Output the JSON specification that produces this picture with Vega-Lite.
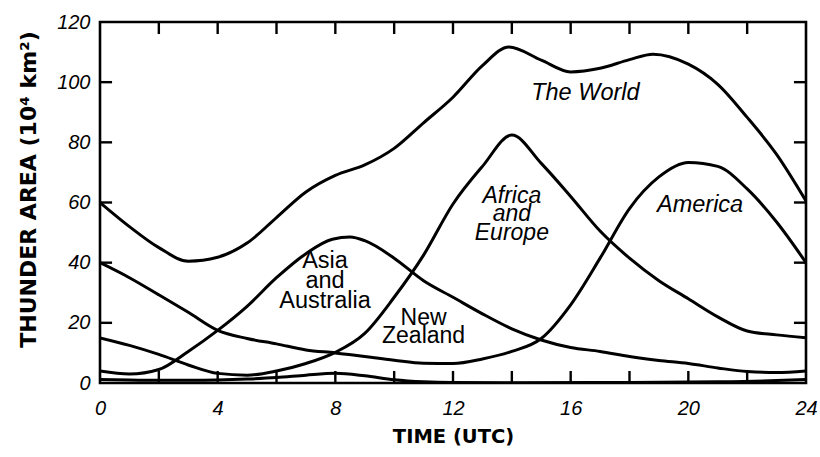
{
  "$schema": "https://vega.github.io/schema/vega-lite/v6.json",
  "width": 706,
  "height": 361,
  "autosize": "none",
  "padding": {"left": 100, "top": 22, "right": 14, "bottom": 74},
  "background": "white",
  "config": {
    "view": {"stroke": "black", "strokeWidth": 2.6},
    "font": "Liberation Sans",
    "scale": {"continuousPadding": 0},
    "axis": {
      "grid": false,
      "domain": false,
      "ticks": false,
      "labelFont": "Liberation Sans",
      "labelFontStyle": "italic",
      "labelFontSize": 20,
      "labelColor": "black",
      "titleFont": "DejaVu Sans",
      "titleFontWeight": "bold",
      "titleColor": "black"
    }
  },
  "datasets": {
    "hourTicks": [
      {"hour": 2}, {"hour": 4}, {"hour": 6}, {"hour": 8}, {"hour": 10}, {"hour": 12},
      {"hour": 14}, {"hour": 16}, {"hour": 18}, {"hour": 20}, {"hour": 22}
    ],
    "areaTicks": [
      {"area": 20}, {"area": 40}, {"area": 60}, {"area": 80}, {"area": 100}
    ],
    "thunder": [
      {"region": "World", "hour": 0, "area": 60},
      {"region": "World", "hour": 1, "area": 52},
      {"region": "World", "hour": 2, "area": 45},
      {"region": "World", "hour": 3, "area": 40.5},
      {"region": "World", "hour": 4, "area": 41.8},
      {"region": "World", "hour": 5, "area": 46.5},
      {"region": "World", "hour": 6, "area": 55},
      {"region": "World", "hour": 7, "area": 63.5},
      {"region": "World", "hour": 8, "area": 69},
      {"region": "World", "hour": 9, "area": 72.5},
      {"region": "World", "hour": 10, "area": 78},
      {"region": "World", "hour": 11, "area": 86.5},
      {"region": "World", "hour": 12, "area": 95},
      {"region": "World", "hour": 13, "area": 105.5},
      {"region": "World", "hour": 13.9, "area": 111.7},
      {"region": "World", "hour": 15, "area": 107.3},
      {"region": "World", "hour": 16, "area": 103.4},
      {"region": "World", "hour": 17, "area": 104.6},
      {"region": "World", "hour": 18, "area": 107.5},
      {"region": "World", "hour": 18.8, "area": 109.3},
      {"region": "World", "hour": 20, "area": 106},
      {"region": "World", "hour": 21, "area": 99.3},
      {"region": "World", "hour": 22, "area": 88.3},
      {"region": "World", "hour": 23, "area": 76},
      {"region": "World", "hour": 24, "area": 60.5},

      {"region": "America", "hour": 0, "area": 40},
      {"region": "America", "hour": 1, "area": 35},
      {"region": "America", "hour": 2, "area": 29.3},
      {"region": "America", "hour": 3, "area": 23.5},
      {"region": "America", "hour": 4, "area": 17.5},
      {"region": "America", "hour": 5, "area": 14.8},
      {"region": "America", "hour": 6, "area": 13},
      {"region": "America", "hour": 7, "area": 11},
      {"region": "America", "hour": 8, "area": 10},
      {"region": "America", "hour": 9, "area": 8.8},
      {"region": "America", "hour": 10, "area": 7.6},
      {"region": "America", "hour": 11, "area": 6.6},
      {"region": "America", "hour": 12, "area": 6.5},
      {"region": "America", "hour": 13, "area": 8},
      {"region": "America", "hour": 14, "area": 10.5},
      {"region": "America", "hour": 15, "area": 14.8},
      {"region": "America", "hour": 16, "area": 26},
      {"region": "America", "hour": 17, "area": 41.5},
      {"region": "America", "hour": 18, "area": 58},
      {"region": "America", "hour": 19, "area": 68.5},
      {"region": "America", "hour": 20, "area": 73.3},
      {"region": "America", "hour": 21, "area": 72},
      {"region": "America", "hour": 22, "area": 64.5},
      {"region": "America", "hour": 23, "area": 53.5},
      {"region": "America", "hour": 24, "area": 40},

      {"region": "Africa and Europe", "hour": 0, "area": 15},
      {"region": "Africa and Europe", "hour": 1, "area": 12.5},
      {"region": "Africa and Europe", "hour": 2, "area": 9.5},
      {"region": "Africa and Europe", "hour": 3, "area": 6},
      {"region": "Africa and Europe", "hour": 4, "area": 3.2},
      {"region": "Africa and Europe", "hour": 5, "area": 2.6},
      {"region": "Africa and Europe", "hour": 6, "area": 4},
      {"region": "Africa and Europe", "hour": 7, "area": 6.5},
      {"region": "Africa and Europe", "hour": 8, "area": 10.2},
      {"region": "Africa and Europe", "hour": 9, "area": 16.5},
      {"region": "Africa and Europe", "hour": 10, "area": 28.5},
      {"region": "Africa and Europe", "hour": 11, "area": 42.5},
      {"region": "Africa and Europe", "hour": 12, "area": 59.5},
      {"region": "Africa and Europe", "hour": 13, "area": 72},
      {"region": "Africa and Europe", "hour": 14, "area": 82.4},
      {"region": "Africa and Europe", "hour": 15, "area": 73},
      {"region": "Africa and Europe", "hour": 16, "area": 62},
      {"region": "Africa and Europe", "hour": 17, "area": 50.5},
      {"region": "Africa and Europe", "hour": 18, "area": 41.5},
      {"region": "Africa and Europe", "hour": 19, "area": 34},
      {"region": "Africa and Europe", "hour": 20, "area": 28},
      {"region": "Africa and Europe", "hour": 21, "area": 22},
      {"region": "Africa and Europe", "hour": 22, "area": 17.3},
      {"region": "Africa and Europe", "hour": 23, "area": 16},
      {"region": "Africa and Europe", "hour": 24, "area": 15},

      {"region": "Asia and Australia", "hour": 0, "area": 4},
      {"region": "Asia and Australia", "hour": 1, "area": 3},
      {"region": "Asia and Australia", "hour": 2, "area": 4.5},
      {"region": "Asia and Australia", "hour": 3, "area": 10.5},
      {"region": "Asia and Australia", "hour": 4, "area": 17.5},
      {"region": "Asia and Australia", "hour": 5, "area": 25.5},
      {"region": "Asia and Australia", "hour": 6, "area": 35},
      {"region": "Asia and Australia", "hour": 7, "area": 43},
      {"region": "Asia and Australia", "hour": 7.9, "area": 47.8},
      {"region": "Asia and Australia", "hour": 8.5, "area": 48.5},
      {"region": "Asia and Australia", "hour": 9, "area": 47.3},
      {"region": "Asia and Australia", "hour": 10, "area": 41.5},
      {"region": "Asia and Australia", "hour": 11, "area": 34},
      {"region": "Asia and Australia", "hour": 12, "area": 28.5},
      {"region": "Asia and Australia", "hour": 13, "area": 23},
      {"region": "Asia and Australia", "hour": 14, "area": 18},
      {"region": "Asia and Australia", "hour": 15, "area": 14.3},
      {"region": "Asia and Australia", "hour": 16, "area": 11.8},
      {"region": "Asia and Australia", "hour": 17, "area": 10.5},
      {"region": "Asia and Australia", "hour": 18, "area": 8.8},
      {"region": "Asia and Australia", "hour": 19, "area": 7.5},
      {"region": "Asia and Australia", "hour": 20, "area": 6.5},
      {"region": "Asia and Australia", "hour": 21, "area": 5},
      {"region": "Asia and Australia", "hour": 22, "area": 3.8},
      {"region": "Asia and Australia", "hour": 23, "area": 3.5},
      {"region": "Asia and Australia", "hour": 24, "area": 4},

      {"region": "New Zealand", "hour": 0, "area": 1.2},
      {"region": "New Zealand", "hour": 1, "area": 1},
      {"region": "New Zealand", "hour": 2, "area": 0.9},
      {"region": "New Zealand", "hour": 3, "area": 0.9},
      {"region": "New Zealand", "hour": 4, "area": 1},
      {"region": "New Zealand", "hour": 5, "area": 1.3},
      {"region": "New Zealand", "hour": 6, "area": 1.8},
      {"region": "New Zealand", "hour": 7, "area": 2.6},
      {"region": "New Zealand", "hour": 8, "area": 3.2},
      {"region": "New Zealand", "hour": 9, "area": 2.4},
      {"region": "New Zealand", "hour": 10, "area": 1.1},
      {"region": "New Zealand", "hour": 11, "area": 0.4},
      {"region": "New Zealand", "hour": 12, "area": 0.15},
      {"region": "New Zealand", "hour": 14, "area": 0.1},
      {"region": "New Zealand", "hour": 18, "area": 0.2},
      {"region": "New Zealand", "hour": 21, "area": 0.4},
      {"region": "New Zealand", "hour": 23, "area": 0.8},
      {"region": "New Zealand", "hour": 24, "area": 1.2}
    ]
  },
  "resolve": {"axis": {"x": "independent", "y": "independent"}},
  "layer": [
    {
      "data": {"name": "thunder"},
      "mark": {"type": "line", "interpolate": "monotone", "stroke": "black", "strokeWidth": 3, "clip": true},
      "encoding": {
        "x": {
          "field": "hour", "type": "quantitative",
          "scale": {"domain": [0, 24], "nice": false, "zero": false, "padding": 0},
          "axis": {
            "orient": "bottom",
            "values": [0, 4, 8, 12, 16, 20, 24],
            "labelPadding": 15,
            "labelFlush": false,
            "title": "TIME (UTC)",
            "titleFontSize": 19.5,
            "titlePadding": 9
          }
        },
        "y": {
          "field": "area", "type": "quantitative",
          "scale": {"domain": [0, 120], "nice": false, "padding": 0},
          "axis": {
            "orient": "left",
            "values": [0, 20, 40, 60, 80, 100, 120],
            "labelPadding": 10,
            "labelFlush": false,
            "title": "THUNDER AREA (10⁴ km²)",
            "titleFontSize": 22,
            "titleAngle": -90,
            "titleAlign": "center",
            "titleBaseline": "middle",
            "titleX": -72,
            "titleY": 167
          }
        },
        "detail": {"field": "region", "type": "nominal"}
      }
    },
    {
      "data": {"name": "hourTicks"},
      "mark": {"type": "bar", "orient": "vertical", "color": "black", "width": 2.4},
      "encoding": {
        "x": {"field": "hour", "type": "quantitative", "scale": {"domain": [0, 24], "nice": false, "zero": false, "padding": 0}, "axis": null},
        "y": {"datum": 0, "type": "quantitative", "axis": null},
        "y2": {"datum": 4}
      }
    },
    {
      "data": {"name": "hourTicks"},
      "mark": {"type": "bar", "orient": "vertical", "color": "black", "width": 2.4},
      "encoding": {
        "x": {"field": "hour", "type": "quantitative", "scale": {"domain": [0, 24], "nice": false, "zero": false, "padding": 0}, "axis": null},
        "y": {"datum": 116, "type": "quantitative", "axis": null},
        "y2": {"datum": 120}
      }
    },
    {
      "data": {"name": "areaTicks"},
      "mark": {"type": "bar", "orient": "horizontal", "color": "black", "height": 2.4},
      "encoding": {
        "y": {"field": "area", "type": "quantitative", "scale": {"domain": [0, 120], "nice": false, "padding": 0}, "axis": null},
        "x": {"datum": 0, "type": "quantitative", "axis": null},
        "x2": {"datum": 0.41}
      }
    },
    {
      "data": {"name": "areaTicks"},
      "mark": {"type": "bar", "orient": "horizontal", "color": "black", "height": 2.4},
      "encoding": {
        "y": {"field": "area", "type": "quantitative", "scale": {"domain": [0, 120], "nice": false, "padding": 0}, "axis": null},
        "x": {"datum": 23.59, "type": "quantitative", "axis": null},
        "x2": {"datum": 24}
      }
    },
    {
      "data": {"values": [{}]},
      "mark": {"type": "text", "text": "The World", "fontStyle": "italic", "fontSize": 23.5, "align": "center", "baseline": "middle"},
      "encoding": {
        "x": {"datum": 16.5, "type": "quantitative", "axis": null},
        "y": {"datum": 96.3, "type": "quantitative", "axis": null}
      }
    },
    {
      "data": {"values": [{}]},
      "mark": {"type": "text", "text": ["Africa", "and", "Europe"], "fontStyle": "italic", "fontSize": 23, "lineHeight": 18.5, "align": "center", "baseline": "middle"},
      "encoding": {
        "x": {"datum": 14, "type": "quantitative", "axis": null},
        "y": {"datum": 62.2, "type": "quantitative", "axis": null}
      }
    },
    {
      "data": {"values": [{}]},
      "mark": {"type": "text", "text": "America", "fontStyle": "italic", "fontSize": 23.5, "align": "center", "baseline": "middle"},
      "encoding": {
        "x": {"datum": 20.4, "type": "quantitative", "axis": null},
        "y": {"datum": 59.1, "type": "quantitative", "axis": null}
      }
    },
    {
      "data": {"values": [{}]},
      "mark": {"type": "text", "text": ["Asia", "and", "Australia"], "fontSize": 23.5, "lineHeight": 20, "align": "center", "baseline": "middle"},
      "encoding": {
        "x": {"datum": 7.65, "type": "quantitative", "axis": null},
        "y": {"datum": 40.6, "type": "quantitative", "axis": null}
      }
    },
    {
      "data": {"values": [{}]},
      "mark": {"type": "text", "text": ["New", "Zealand"], "fontSize": 23, "lineHeight": 18, "align": "center", "baseline": "middle"},
      "encoding": {
        "x": {"datum": 11.0, "type": "quantitative", "axis": null},
        "y": {"datum": 21.6, "type": "quantitative", "axis": null}
      }
    }
  ]
}
